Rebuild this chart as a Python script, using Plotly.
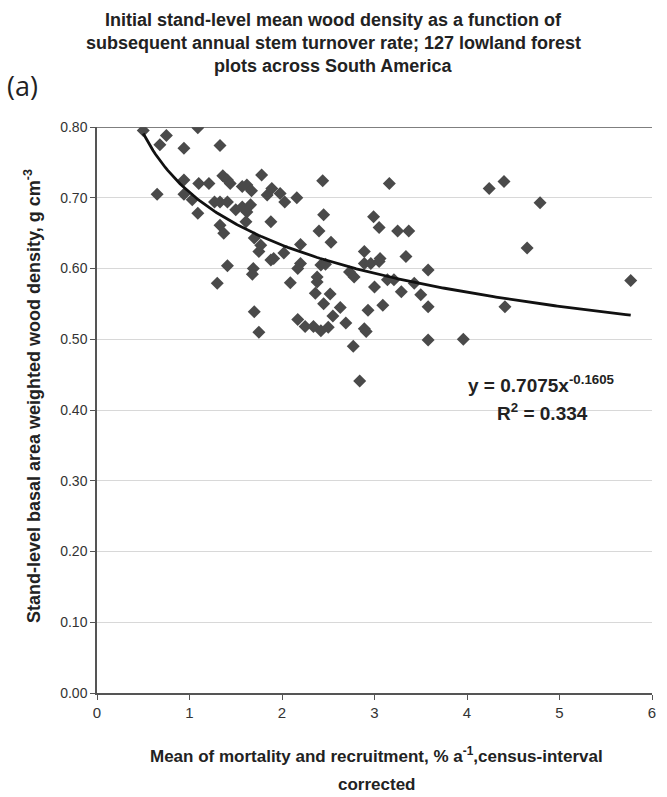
import numpy as np
import plotly.graph_objects as go

# Scatter data: (turnover rate, wood density)
turnover = [
    0.50, 0.75, 0.68, 0.94, 1.09, 1.33, 0.65, 0.94, 0.94, 1.10, 1.21, 1.03, 1.09, 1.27, 1.33, 1.41,
    1.36, 1.41, 1.44, 1.57, 1.62, 1.67, 1.78, 1.84, 1.50, 1.57, 1.66, 1.62, 1.33, 1.37, 1.61, 1.70, 1.88,
    1.89, 1.98, 2.03, 2.16, 2.44, 3.16, 2.45, 2.40, 2.99, 3.05, 3.25, 3.37, 2.20, 2.53,
    1.77, 1.75, 1.88, 1.41, 1.69, 1.68, 1.30, 1.70, 1.75,
    1.91, 2.02, 2.20, 2.17, 2.42, 2.47, 2.38, 2.38, 2.09, 2.73, 2.78, 2.89, 2.89, 2.96, 3.05, 3.06,
    3.34, 3.14, 3.21, 3.00, 3.29, 3.43, 3.50, 3.58, 3.58, 3.58, 2.36, 2.45, 2.52, 2.63, 2.55, 2.69,
    2.93, 3.09, 2.89, 2.91, 2.77, 2.84, 2.17, 2.25, 2.34, 2.42, 2.50,
    4.24, 4.40, 4.79, 4.65, 4.41, 3.96, 5.77,
]
density = [
    0.795, 0.788, 0.775, 0.770, 0.799, 0.774, 0.705, 0.725, 0.705, 0.720, 0.720, 0.697, 0.678, 0.694, 0.694, 0.694,
    0.731, 0.725, 0.720, 0.716, 0.718, 0.710, 0.732, 0.704, 0.683, 0.687, 0.690, 0.680, 0.661, 0.650, 0.666, 0.643, 0.666,
    0.713, 0.706, 0.694, 0.700, 0.724, 0.720, 0.676, 0.653, 0.673, 0.658, 0.653, 0.653, 0.634, 0.637,
    0.633, 0.624, 0.612, 0.604, 0.600, 0.592, 0.579, 0.539, 0.510,
    0.614, 0.622, 0.607, 0.600, 0.605, 0.606, 0.588, 0.581, 0.580, 0.595, 0.588, 0.624, 0.607, 0.607, 0.610, 0.614,
    0.617, 0.584, 0.584, 0.574, 0.567, 0.579, 0.563, 0.598, 0.546, 0.499, 0.565, 0.550, 0.564, 0.545, 0.533, 0.523,
    0.541, 0.548, 0.515, 0.511, 0.490, 0.441, 0.528, 0.518, 0.518, 0.512, 0.517,
    0.713, 0.723, 0.693, 0.629, 0.546, 0.500, 0.583,
]

# Power-law trend line (as printed on chart)
fit_a = 0.7075
fit_b = -0.1605
fit_x_min = 0.50
fit_x_max = 5.77

x_ticks = [0, 1, 2, 3, 4, 5, 6]
y_ticks = [0.0, 0.1, 0.2, 0.3, 0.4, 0.5, 0.6, 0.7, 0.8]

narrow = "Liberation Sans Narrow, Arial Narrow, Liberation Sans, Arial, sans-serif"

fx = np.linspace(fit_x_min, fit_x_max, 200)
fy = fit_a * fx ** fit_b

fig = go.Figure()
fig.add_trace(go.Scatter(
    x=turnover, y=density, mode="markers",
    marker=dict(symbol="diamond", size=10, color="#4a4a4a", line=dict(width=0)),
    showlegend=False, hoverinfo="x+y",
))
fig.add_trace(go.Scatter(
    x=fx, y=fy, mode="lines", line=dict(color="#111111", width=2.8),
    showlegend=False, hoverinfo="skip",
))

W, H = 667, 797
L, R, T, B = 97, 15, 127, 104
pw = W - L - R
ph = H - T - B

def px(xp):
    return (xp - L) / pw

def py(yp):
    return (H - B - yp) / ph

ann = []
title_lines = [
    "Initial stand-level mean wood density as a function of",
    "subsequent annual stem turnover rate; 127 lowland forest",
    "plots across South America",
]
for i, t in enumerate(title_lines):
    ann.append(dict(text="<b>" + t + "</b>", x=px(333), y=py(20 + i * 23), xref="paper", yref="paper",
                    showarrow=False, xanchor="center", yanchor="middle",
                    font=dict(family=narrow, size=18, color="#222222")))
ann.append(dict(text="(a)", x=px(5), y=py(86), xref="paper", yref="paper", showarrow=False,
                xanchor="left", yanchor="middle", font=dict(family="Open Sans, sans-serif", size=27, color="#222222")))
ann.append(dict(text="<b>Stand-level basal area weighted wood density, g cm<sup>-3</sup></b>",
                x=px(32), y=py(396), xref="paper", yref="paper", textangle=-90, showarrow=False,
                xanchor="center", yanchor="middle", font=dict(family=narrow, size=18, color="#222222")))
ann.append(dict(text="<b>Mean of mortality and recruitment, % a<sup>-1</sup>,census-interval</b>",
                x=px(376), y=py(755), xref="paper", yref="paper", showarrow=False,
                xanchor="center", yanchor="middle", font=dict(family=narrow, size=17, color="#222222")))
ann.append(dict(text="<b>corrected</b>",
                x=px(376), y=py(784), xref="paper", yref="paper", showarrow=False,
                xanchor="center", yanchor="middle", font=dict(family=narrow, size=17, color="#222222")))
ann.append(dict(text="<b>y = 0.7075x<sup>-0.1605</sup></b>", x=4.81, y=0.437, xref="x", yref="y",
                showarrow=False, xanchor="center", yanchor="middle",
                font=dict(family=narrow, size=19, color="#222222")))
ann.append(dict(text="<b>R<sup>2</sup> = 0.334</b>", x=4.82, y=0.397, xref="x", yref="y",
                showarrow=False, xanchor="center", yanchor="middle",
                font=dict(family=narrow, size=19, color="#222222")))

fig.update_layout(
    width=W, height=H,
    margin=dict(l=L, r=R, t=T, b=B),
    paper_bgcolor="white", plot_bgcolor="white",
    annotations=ann,
    shapes=[dict(type="line", xref="paper", yref="y", x0=0, x1=1, y0=0.8, y1=0.8,
                 line=dict(color="#555555", width=1.5))],
    xaxis=dict(range=[0, 6], tickvals=x_ticks, ticktext=[str(v) for v in x_ticks],
               showgrid=False, zeroline=False, showline=True, linecolor="#555555", linewidth=1.5,
               ticks="outside", ticklen=5, tickcolor="#555555",
               tickfont=dict(family=narrow, size=15, color="#333333")),
    yaxis=dict(range=[0, 0.8], tickvals=y_ticks, ticktext=["%.2f" % v for v in y_ticks],
               showgrid=True, gridcolor="#d8d8d8", gridwidth=1, zeroline=False,
               showline=True, linecolor="#555555", linewidth=1.5,
               ticks="outside", ticklen=5, tickcolor="#555555",
               tickfont=dict(family=narrow, size=14, color="#333333")),
)

fig.write_html("out.html")
